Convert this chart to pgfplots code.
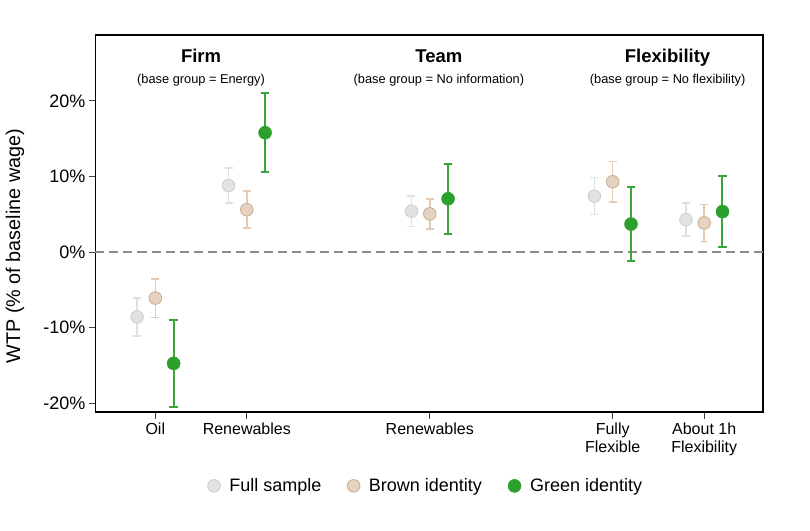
\documentclass[border=0pt]{standalone}
\usepackage{pgfplots}
\pgfplotsset{compat=1.18}
\usepackage{fontspec}
\setmainfont{Liberation Sans}
\definecolor{grn}{RGB}{44,160,44}
\definecolor{grnbar}{RGB}{56,166,56}
\definecolor{gryfill}{RGB}{226,226,226}
\definecolor{grydraw}{RGB}{208,208,208}
\definecolor{grybar}{RGB}{224,224,224}
\definecolor{brnfill}{RGB}{230,210,192}
\definecolor{brndraw}{RGB}{204,176,148}
\definecolor{brnbar}{RGB}{226,204,184}
\begin{document}
\begin{tikzpicture}
\begin{axis}[
  scale only axis,
  width=667.5pt, height=377pt,
  xmin=0.346, xmax=7.643,
  ymin=-21.19, ymax=28.74,
  axis line style={line width=1.1pt},
  xtick={1,2,4,6,7},
  xticklabels={Oil,Renewables,Renewables,{Fully\\Flexible},{About 1h\\Flexibility}},
  xticklabel style={align=center, font=\fontsize{16}{17.5}\selectfont, anchor=north, yshift=-1pt},
  ytick={-20,-10,0,10,20},
  yticklabels={-20\%,-10\%,0\%,10\%,20\%},
  yticklabel style={font=\fontsize{18}{20}\selectfont},
  xtick pos=lower, ytick pos=left,
  tick align=outside,
  major tick length=6.5pt,
  tick style={line width=1pt, black!75},
  ylabel={WTP (\% of baseline wage)},
  ylabel style={at={(axis description cs:-0.1206,0.44)}, anchor=center, font=\fontsize{19.8}{21}\selectfont},
  legend style={at={(axis description cs:0.495,-0.196)}, anchor=center, draw=none,
    font=\fontsize{18}{20}\selectfont,
    /tikz/every odd column/.append style={column sep=7pt},
    /tikz/every even column/.append style={column sep=24pt}},
  legend columns=3,
  clip=false,
]
\addplot[gray!90, line width=1.4pt, dash pattern=on 9pt off 5pt, forget plot] coordinates {(0.346,0) (7.643,0)};

\addplot[only marks, mark=*, mark size=6.3pt, color=grybar,
  mark options={fill=gryfill, draw=grydraw, line width=0.9pt},
  error bars/.cd, y dir=both, y explicit,
  error bar style={line width=1.5pt, color=grybar},
  error mark options={rotate=90, line width=1.5pt, mark size=4pt, color=grybar},
] table[x=x, y=y, y error=e] {
x y e
0.8 -8.6 2.5
1.8 8.8 2.3
3.8 5.4 2.05
5.8 7.4 2.45
6.8 4.3 2.2
};
\addlegendentry{Full sample}

\addplot[only marks, mark=*, mark size=6.3pt, color=brnbar,
  mark options={fill=brnfill, draw=brndraw, line width=0.9pt},
  error bars/.cd, y dir=both, y explicit,
  error bar style={line width=1.5pt, color=brnbar},
  error mark options={rotate=90, line width=1.5pt, mark size=4pt, color=brnbar},
] table[x=x, y=y, y error=e] {
x y e
1 -6.1 2.55
2 5.6 2.45
4 5.05 2.0
6 9.3 2.7
7 3.85 2.45
};
\addlegendentry{Brown identity}

\addplot[only marks, mark=*, mark size=6.5pt, color=grnbar,
  mark options={fill=grn, draw=grn, line width=0.5pt},
  error bars/.cd, y dir=both, y explicit,
  error bar style={line width=2pt, color=grnbar},
  error mark options={rotate=90, line width=2pt, mark size=4.2pt, color=grnbar},
] table[x=x, y=y, y error=e] {
x y e
1.2 -14.75 5.75
2.2 15.8 5.2
4.2 7.05 4.6
6.2 3.7 4.9
7.2 5.35 4.65
};
\addlegendentry{Green identity}

\node[anchor=base, font=\fontsize{18.5}{20}\selectfont\bfseries] at (axis cs:1.5,25.07) {Firm};
\node[anchor=base, font=\fontsize{12.8}{14}\selectfont] at (axis cs:1.5,22.34) {(base group = Energy)};
\node[anchor=base, font=\fontsize{18.5}{20}\selectfont\bfseries] at (axis cs:4.1,25.07) {Team};
\node[anchor=base, font=\fontsize{12.8}{14}\selectfont] at (axis cs:4.1,22.34) {(base group = No information)};
\node[anchor=base, font=\fontsize{18.5}{20}\selectfont\bfseries] at (axis cs:6.6,25.07) {Flexibility};
\node[anchor=base, font=\fontsize{12.8}{14}\selectfont] at (axis cs:6.6,22.34) {(base group = No flexibility)};
\end{axis}
\pgfresetboundingbox
\path[use as bounding box] (-95.5pt,-118pt) rectangle (714.5pt,412pt);
\end{tikzpicture}
\end{document}
